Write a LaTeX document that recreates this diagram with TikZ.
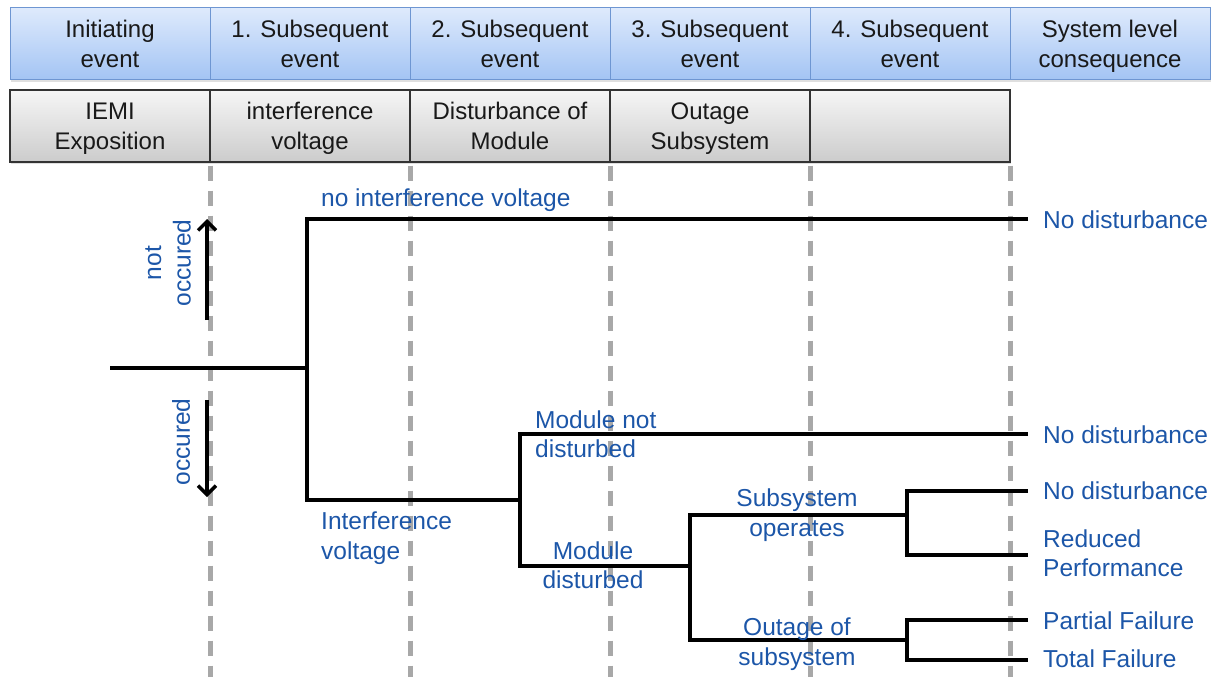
\documentclass[tikz,border=0pt]{standalone}
\usepackage{fontspec}
\setmainfont{Liberation Sans}
\usetikzlibrary{arrows.meta,shadows}

\definecolor{hdrtop}{RGB}{222,234,252}
\definecolor{hdrbot}{RGB}{163,196,244}
\definecolor{hdrline}{RGB}{110,150,210}
\definecolor{boxtop}{RGB}{246,246,246}
\definecolor{boxbot}{RGB}{204,204,204}
\definecolor{lbl}{RGB}{28,86,168}
\definecolor{guide}{RGB}{168,168,168}

% two-line cell text with a fixed top height and no bottom depth
\newcommand{\twoline}[2]{\rule{0pt}{17.5pt}\smash{#1}\\\smash{#2}}

\tikzset{
  hdrbox/.style={draw=hdrline, line width=1pt, top color=hdrtop, bottom color=hdrbot,
    minimum width=200pt, minimum height=72pt, inner sep=0pt, align=center,
    text=black!90, font=\fontsize{24}{30}\selectfont,
    drop shadow={shadow xshift=1pt, shadow yshift=-2pt, opacity=0.25}},
  evbox/.style={draw=black!80, line width=1.2pt, top color=boxtop, bottom color=boxbot,
    minimum width=200pt, minimum height=72pt, inner sep=0pt, align=center,
    text=black!90, font=\fontsize{24}{30}\selectfont,
    drop shadow={shadow xshift=1pt, shadow yshift=-2pt, opacity=0.25}},
  guideline/.style={draw=guide, line width=4.5pt, dash pattern=on 15pt off 10pt},
  tree/.style={draw=black, line width=4.5pt, line join=miter},
  updown/.style={draw=black, line width=3.5pt, -{Straight Barb[length=9pt,width=18pt,line width=3.5pt]}},
  lab/.style={text=lbl, inner sep=0pt, font=\fontsize{24.5}{29.5}\selectfont},
}

\begin{document}
\begin{tikzpicture}[x=1pt,y=-1pt]
\useasboundingbox (0,0) rectangle (1219,677);

% column headers
\node[hdrbox] (h1) at (110,44) {\twoline{Initiating}{event}};
\node[hdrbox] (h2) at (310,44) {\twoline{1. Subsequent}{event}};
\node[hdrbox] (h3) at (510,44) {\twoline{2. Subsequent}{event}};
\node[hdrbox] (h4) at (710,44) {\twoline{3. Subsequent}{event}};
\node[hdrbox] (h5) at (910,44) {\twoline{4. Subsequent}{event}};
\node[hdrbox] (h6) at (1110,44) {\twoline{System level}{consequence}};

% event descriptions
\node[evbox] (g1) at (110,126) {\twoline{IEMI}{Exposition}};
\node[evbox] (g2) at (310,126) {\twoline{interference}{voltage}};
\node[evbox] (g3) at (510,126) {\twoline{Disturbance of}{Module}};
\node[evbox] (g4) at (710,126) {\twoline{Outage}{Subsystem}};
\node[evbox] (g5) at (910,126) {};

% column guides
\foreach \g in {g1,g2,g3,g4,g5}
  \draw[guideline] ([yshift=-3pt]\g.south east) -- ++(0,515);

% branch points and outcomes
\coordinate (r) at (110,368);
\coordinate (a) at (307,368);
\coordinate (b) at (520,500);
\coordinate (c) at (690,566);
\coordinate (d) at (907,515);
\coordinate (e) at (907,640);
\coordinate (o1) at (1028,219);
\coordinate (o2) at (1028,434);
\coordinate (o3) at (1028,491);
\coordinate (o4) at (1028,555);
\coordinate (o5) at (1028,620);
\coordinate (o6) at (1028,660);

\draw[tree] (r) -- (a);
\draw[tree] (o1) -| (a) |- (b);
\draw[tree] (o2) -| (b) |- (c);
\draw[tree] (d) -| (c) |- (e);
\draw[tree] (o3) -| (d) |- (o4);
\draw[tree] (o5) -| (e) |- (o6);

% occurrence arrows
\coordinate (nu0) at (207,320);
\coordinate (nu1) at (207,219);
\coordinate (oc0) at (207,400);
\coordinate (oc1) at (207,497);
\draw[updown] (nu0) -- (nu1);
\draw[updown] (oc0) -- (oc1);
\node[lab, rotate=90, align=center] (tnot) at (168,263) {not\\occured};
\node[lab, rotate=90] (tocc) at (181,442) {occured};

% branch labels
\node[lab, anchor=west] (l1) at (321,200) {no interference voltage};
\node[lab, anchor=west, align=left] (l2) at (321,538) {Interference\\voltage};
\node[lab, anchor=west, align=left] (l3) at (535,434) {Module not\\disturbed};
\node[lab, align=center] (l4) at (593,565) {Module\\disturbed};
\node[lab, align=center] (l5) at (797,515) {Subsystem\\operates};
\node[lab, align=center] (l6) at (797,644) {Outage of\\subsystem};

% consequences
\node[lab, anchor=west] (c1) at (1043,220) {No disturbance};
\node[lab, anchor=west] (c2) at (1043,435) {No disturbance};
\node[lab, anchor=west] (c3) at (1043,491) {No disturbance};
\node[lab, anchor=west, align=left] (c4) at (1043,553) {Reduced\\Performance};
\node[lab, anchor=west] (c5) at (1043,621) {Partial Failure};
\node[lab, anchor=west] (c6) at (1043,659) {Total Failure};
\end{tikzpicture}
\end{document}
